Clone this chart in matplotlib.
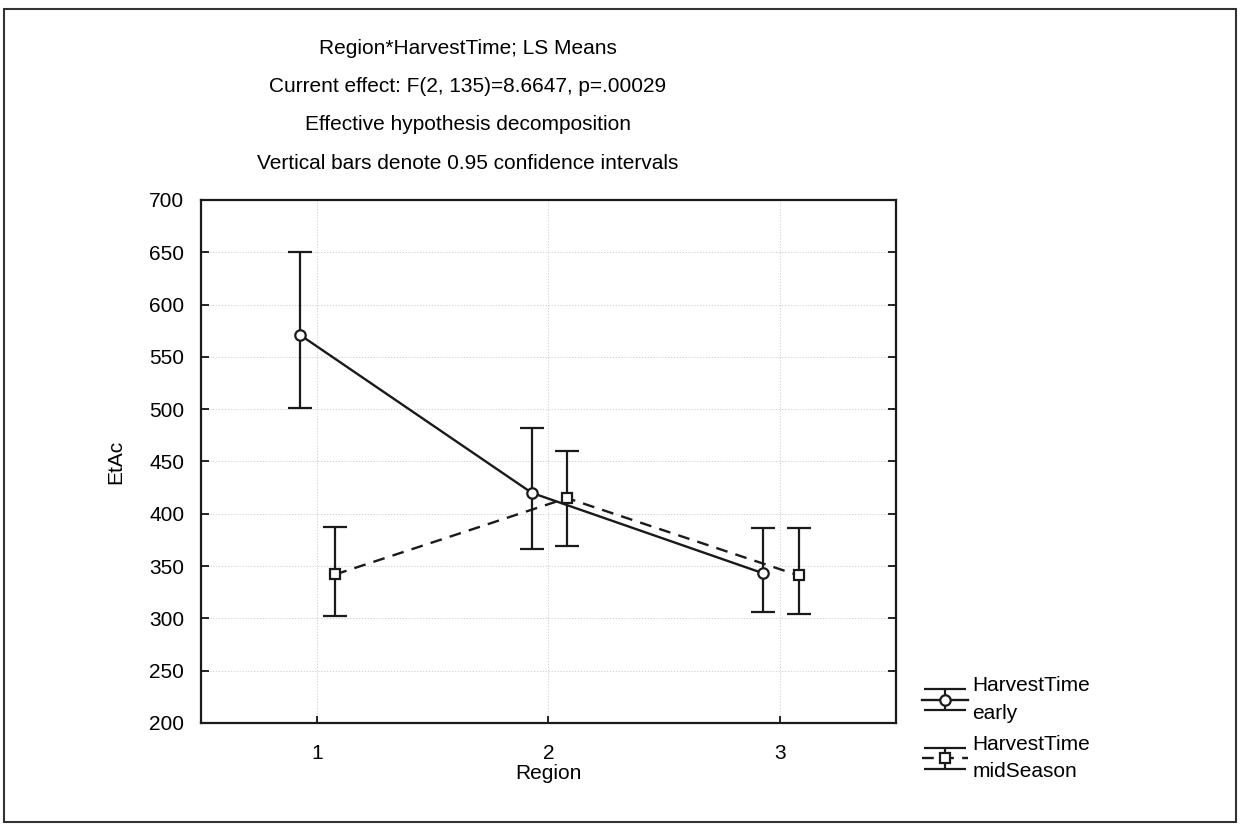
import matplotlib
matplotlib.use('Agg')
import matplotlib.pyplot as plt
from matplotlib.patches import Rectangle
from matplotlib.lines import Line2D

plt.rcParams['font.family'] = ['Liberation Sans', 'DejaVu Sans']

# data
regions = [1, 2, 3]
early_mean = [571, 420, 343]
early_low = [501, 366, 306]
early_high = [650, 482, 386]
mid_mean = [342, 415, 341]
mid_low = [302, 369, 304]
mid_high = [387, 460, 386]
title_lines = ['Region*HarvestTime; LS Means',
               'Current effect: F(2, 135)=8.6647, p=.00029',
               'Effective hypothesis decomposition',
               'Vertical bars denote 0.95 confidence intervals']

fig = plt.figure(figsize=(12.4, 8.27), dpi=100)
ax = fig.add_axes([0.162, 0.1258, 0.5606, 0.6324])

x_early = [r - 0.072 for r in regions]
x_mid = [r + 0.08 for r in regions]
err_early = [[m - l for m, l in zip(early_mean, early_low)],
             [h - m for m, h in zip(early_mean, early_high)]]
err_mid = [[m - l for m, l in zip(mid_mean, mid_low)],
           [h - m for m, h in zip(mid_mean, mid_high)]]

ax.errorbar(x_early, early_mean, yerr=err_early, color='#1a1a1a', linestyle='-', linewidth=1.7,
            marker='o', markersize=7.5, markerfacecolor='white', markeredgewidth=1.6,
            capsize=8.5, capthick=2, elinewidth=1.6, label='HarvestTime\nearly', zorder=3)
ax.errorbar(x_mid, mid_mean, yerr=err_mid, color='#1a1a1a', linestyle=(0, (5, 3.5)), linewidth=1.7,
            marker='s', markersize=7, markerfacecolor='white', markeredgewidth=1.6,
            capsize=8.5, capthick=2, elinewidth=1.6, label='HarvestTime\nmidSeason', zorder=3)

ax.set_xlim(0.5, 3.5)
ax.set_ylim(200, 700)
ax.set_xticks(regions)
ax.set_yticks(range(200, 701, 50))
ax.tick_params(axis='y', direction='in', left=True, right=True, length=6, width=1.2,
               labelsize=15, pad=12)
ax.tick_params(axis='x', direction='in', top=False, length=5, width=1.2, labelsize=15, pad=15)
ax.grid(True, linestyle=(0, (1.5, 2)), linewidth=0.6, color='#c8c8c8')
ax.set_axisbelow(True)
for s in ax.spines.values():
    s.set_linewidth(1.6)
    s.set_color('#1a1a1a')

ax.set_xlabel('Region', fontsize=15, labelpad=1)
ax.set_ylabel('EtAc', fontsize=15, labelpad=17)

for i, t in enumerate(title_lines):
    fig.text(468 / 1240, 1 - (48 + i * 38.5) / 827, t, ha='center', va='center', fontsize=15)

leg = ax.legend(loc='upper left', bbox_to_anchor=(914 / 1240, 1 - 668 / 827),
                bbox_transform=fig.transFigure, frameon=False, fontsize=15,
                handlelength=2.2, handletextpad=0.2, labelspacing=0.6, borderaxespad=0)
for t in leg.get_texts():
    t.set_linespacing(1.55)
# wider caps in the legend symbols, like the original
for ln in leg.findobj(Line2D):
    if ln.get_marker() == '_':
        ln.set_markersize(30)

fig.patches.append(Rectangle((4 / 1240, 1 - 822 / 827), 1232 / 1240, 813 / 827,
                             transform=fig.transFigure, fill=False, edgecolor='#333333',
                             linewidth=1.5))

fig.savefig('out.png', dpi=100, facecolor='white')
